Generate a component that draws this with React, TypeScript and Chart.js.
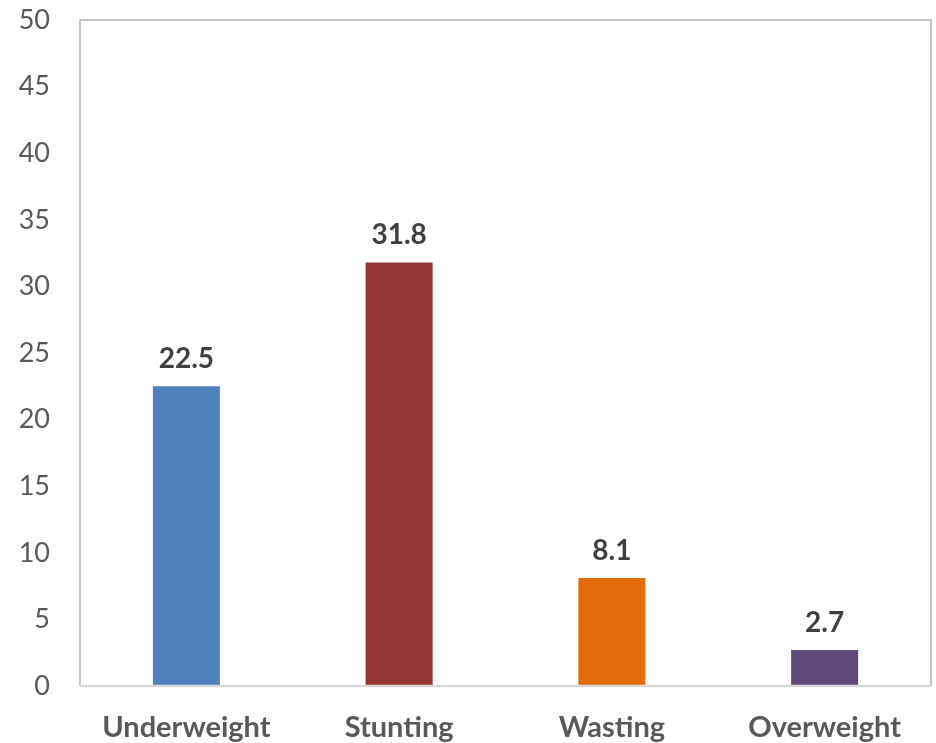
import React, { useEffect, useRef } from "react";
import { Chart, registerables } from "chart.js";

Chart.register(...registerables);

const categories = ["Underweight", "Stunting", "Wasting", "Overweight"];
const values = [22.5, 31.8, 8.1, 2.7];
const barColors = ["#4F81BD", "#953735", "#E46C0A", "#604A7B"];
const yMin = 0;
const yMax = 50;
const yStep = 5;

const FONT = "Lato, 'Open Sans', sans-serif";

const framePlugin = {
  id: "frame",
  beforeDatasetsDraw(chart: any) {
    const { ctx, chartArea } = chart;
    ctx.save();
    ctx.strokeStyle = "#B3B3B3";
    ctx.lineWidth = 1.5;
    ctx.beginPath();
    ctx.moveTo(chartArea.left, chartArea.bottom);
    ctx.lineTo(chartArea.left, chartArea.top);
    ctx.lineTo(chartArea.right, chartArea.top);
    ctx.lineTo(chartArea.right, chartArea.bottom);
    ctx.stroke();
    ctx.restore();
  },
  afterDatasetsDraw(chart: any) {
    const { ctx, chartArea } = chart;
    ctx.save();
    ctx.strokeStyle = "#D9D9D9";
    ctx.lineWidth = 2.5;
    ctx.beginPath();
    ctx.moveTo(chartArea.left, chartArea.bottom);
    ctx.lineTo(chartArea.right, chartArea.bottom);
    ctx.stroke();
    ctx.restore();
  },
};

const labelPlugin = {
  id: "valueLabels",
  afterDatasetsDraw(chart: any) {
    const { ctx } = chart;
    const meta = chart.getDatasetMeta(0);
    ctx.save();
    ctx.font = `bold 28px ${FONT}`;
    ctx.fillStyle = "#404040";
    ctx.textAlign = "center";
    ctx.textBaseline = "alphabetic";
    meta.data.forEach((bar: any, i: number) => {
      ctx.fillText(String(values[i]), bar.x, bar.y - 18);
    });
    ctx.restore();
  },
};

export default function App() {
  const ref = useRef<HTMLCanvasElement>(null);
  useEffect(() => {
    if (!ref.current) return;
    const chart = new Chart(ref.current, {
      type: "bar",
      data: {
        labels: categories,
        datasets: [
          {
            data: values,
            backgroundColor: barColors,
            barPercentage: 0.315,
            categoryPercentage: 1,
          },
        ],
      },
      options: {
        animation: false,
        responsive: false,
        maintainAspectRatio: false,
        layout: { padding: { top: 20, right: 5, left: 0, bottom: 0 } },
        plugins: {
          legend: { display: false },
          tooltip: { enabled: false },
        },
        scales: {
          x: {
            grid: { display: false, drawTicks: false },
            border: { display: false },
            ticks: {
              color: "#595959",
              font: { family: FONT, size: 29, weight: "bold" },
              padding: 24,
              maxRotation: 0,
            },
            afterFit(scale: any) {
              scale.height = 57;
              scale.paddingLeft = 0;
              scale.paddingRight = 0;
            },
          },
          y: {
            min: yMin,
            max: yMax,
            grid: { display: false, drawTicks: false },
            border: { display: false },
            ticks: {
              stepSize: yStep,
              color: "#595959",
              font: { family: FONT, size: 27 },
              padding: 30,
            },
            afterFit(scale: any) {
              scale.width = 80;
              scale.paddingTop = 0;
              scale.paddingBottom = 0;
            },
          },
        },
      },
      plugins: [framePlugin, labelPlugin],
    });
    return () => chart.destroy();
  }, []);
  return (
    <div style={{ position: "absolute", left: 0, top: 0, width: 936, height: 743 }}>
      <canvas ref={ref} width={936} height={743} style={{ width: 936, height: 743 }} />
    </div>
  );
}
